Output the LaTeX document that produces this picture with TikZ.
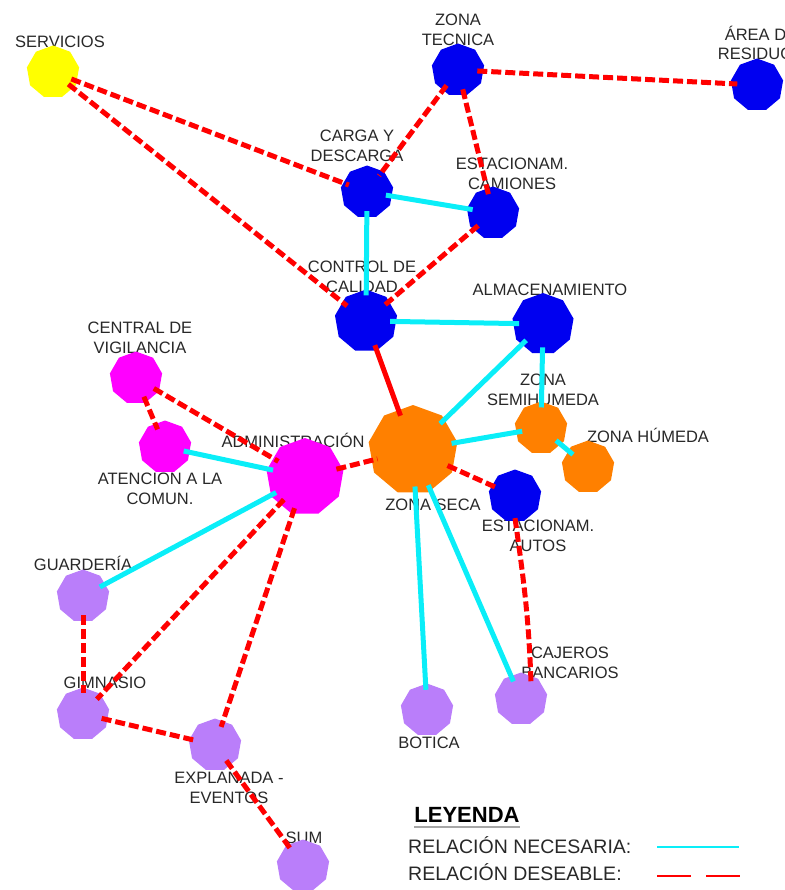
\documentclass[tikz,border=0pt]{standalone}
\usepackage{fontspec}
\setmainfont{Liberation Sans}
\usetikzlibrary{shapes.geometric}
\definecolor{nblue}{RGB}{0,0,240}
\definecolor{nyellow}{RGB}{255,255,0}
\definecolor{nmagenta}{RGB}{255,0,255}
\definecolor{norange}{RGB}{255,128,0}
\definecolor{nlav}{RGB}{186,126,250}
\definecolor{necc}{RGB}{10,238,248}
\definecolor{desc}{RGB}{255,0,0}
\definecolor{lblgray}{RGB}{40,40,40}
\begin{document}
\begin{tikzpicture}[x=1pt,y=-1pt,
  poly/.style={regular polygon, regular polygon sides=9, minimum size=53pt, inner sep=0pt, draw=none},
  blu/.style={poly, fill=nblue},
  yel/.style={poly, fill=nyellow},
  mag/.style={poly, fill=nmagenta},
  ora/.style={poly, fill=norange},
  lav/.style={poly, fill=nlav},
  lbl/.style={font=\fontsize{16.5}{19.5}\selectfont, text=lblgray, align=center, inner sep=0pt},
  one/.style={lbl, text height=11.8pt, text depth=0pt},
  nec/.style={draw=necc, line width=5pt, shorten <=-6pt, shorten >=-6pt},
  des/.style={draw=desc, line width=5pt, dash pattern=on 10pt off 4pt, shorten <=-6pt, shorten >=-6pt},
  sol/.style={draw=desc, line width=5pt, shorten <=-6pt, shorten >=-6pt},
  legtxt/.style={font=\fontsize{19.5}{22}\selectfont, text=lblgray, anchor=west, inner sep=0pt, text height=13.9pt, text depth=0pt}
]
\useasboundingbox (0,0) rectangle (784,890);

% labels
\node[one] (lserv) at (60,42) {SERVICIOS};
\node[lbl] (ltec) at (458,30) {ZONA\\TECNICA};
\node[lbl] (larea) at (761,43) {ÁREA DE\\RESIDUOS};
\node[lbl] (lcarga) at (357,146) {CARGA Y\\DESCARGA};
\node[lbl] (lcam) at (512,174) {ESTACIONAM.\\CAMIONES};
\node[lbl] (lctrl) at (362,277) {CONTROL DE\\CALIDAD};
\node[one] (lalm) at (550,290) {ALMACENAMIENTO};
\node[lbl] (lcent) at (140,338) {CENTRAL DE\\VIGILANCIA};
\node[lbl] (laten) at (160,489) {ATENCION A LA\\COMUN.};
\node[one] (ladmin) at (293,442) {ADMINISTRACIÓN};
\node[one] (lseca) at (433,505) {ZONA SECA};
\node[lbl] (lsemi) at (543,390) {ZONA\\SEMIHUMEDA};
\node[one] (lhum) at (648,437) {ZONA HÚMEDA};
\node[lbl] (lautos) at (538,536) {ESTACIONAM.\\AUTOS};
\node[one] (lguard) at (83,565) {GUARDERÍA};
\node[one] (lgim) at (105,683) {GIMNASIO};
\node[lbl] (lexpl) at (229,788) {EXPLANADA -\\EVENTOS};
\node[one] (lsum) at (304,838) {SUM};
\node[one] (lbot) at (429,743) {BOTICA};
\node[lbl] (lcaj) at (570,663) {CAJEROS\\BANCARIOS};

% nodes
\node[yel] (serv) at (53,72) {};
\node[blu] (tec) at (458,70) {};
\node[blu] (area) at (757,85) {};
\node[blu] (carga) at (367,192) {};
\node[blu] (cam) at (493,213) {};
\node[blu, minimum size=63pt] (ctrl) at (366,321) {};
\node[blu, minimum size=62pt] (alm) at (543,324) {};
\node[mag] (cent) at (136,378) {};
\node[mag] (aten) at (165,447) {};
\node[mag, minimum size=78pt] (admin) at (305,477) {};
\node[ora, minimum size=90pt] (seca) at (413,450) {};
\node[ora] (semi) at (541,428) {};
\node[ora] (hum) at (588,467) {};
\node[blu] (autos) at (515,496) {};
\node[lav] (guard) at (83,596) {};
\node[lav] (gim) at (83,714) {};
\node[lav] (expl) at (215,745) {};
\node[lav] (sum) at (303,866) {};
\node[lav] (bot) at (427,710) {};
\node[lav] (caj) at (521,699) {};

% necessary relations
\draw[nec] (carga) -- (cam);
\draw[nec] (carga) -- (ctrl);
\draw[nec] (ctrl) -- (alm);
\draw[nec] (alm) -- (seca);
\draw[nec] (alm) -- (semi);
\draw[nec] (seca) -- (semi);
\draw[nec] (semi) -- (hum);
\draw[nec] (aten) -- (admin);
\draw[nec] (admin) -- (guard);
\draw[nec] (seca) -- (bot);
\draw[nec] (seca) -- (caj);

% desirable relations
\draw[des] (serv) -- (carga);
\draw[des] (serv) -- (ctrl);
\draw[des] (tec) -- (carga);
\draw[des] (tec) -- (cam);
\draw[des] (tec) -- (area);
\draw[des] (cam) -- (ctrl);
\draw[sol] (ctrl) -- (seca);
\draw[des] (cent) -- (admin);
\draw[des] (cent) -- (aten);
\draw[des] (admin) -- (seca);
\draw[des] (admin) -- (gim);
\draw[des] (admin) -- (expl);
\draw[des] (guard) -- (gim);
\draw[des] (gim) -- (expl);
\draw[des] (expl) -- (sum);
\draw[des] (seca) -- (autos);
\draw[draw=desc, line width=5pt, dash pattern=on 10pt off 4pt] ([yshift=3pt]autos.south) to[out=-82,in=92] ([shift={(10pt,-10pt)}]caj.north);

% legend
\node[font=\bfseries\fontsize{22}{24}\selectfont, text=black, inner sep=0pt, text height=15.8pt, text depth=0pt] (leyenda) at (467,815) {LEYENDA};
\draw[gray!70, line width=1.5pt] (leyenda.south west) ++(0pt,-4pt) coordinate (u1) -- (u1 -| leyenda.south east);
\node[legtxt] (lnec) at (408,847) {RELACIÓN NECESARIA:};
\node[legtxt] (ldes) at (408,874) {RELACIÓN DESEABLE:};
\coordinate (nc1) at (657,847);
\coordinate (nc2) at (739,847);
\coordinate (dc1) at (657,876);
\coordinate (dc2) at (741,876);
\draw[draw=necc, line width=2.5pt] (nc1) -- (nc2);
\draw[draw=desc, line width=2.5pt, dash pattern=on 34pt off 15pt] (dc1) -- (dc2);
\end{tikzpicture}
\end{document}
